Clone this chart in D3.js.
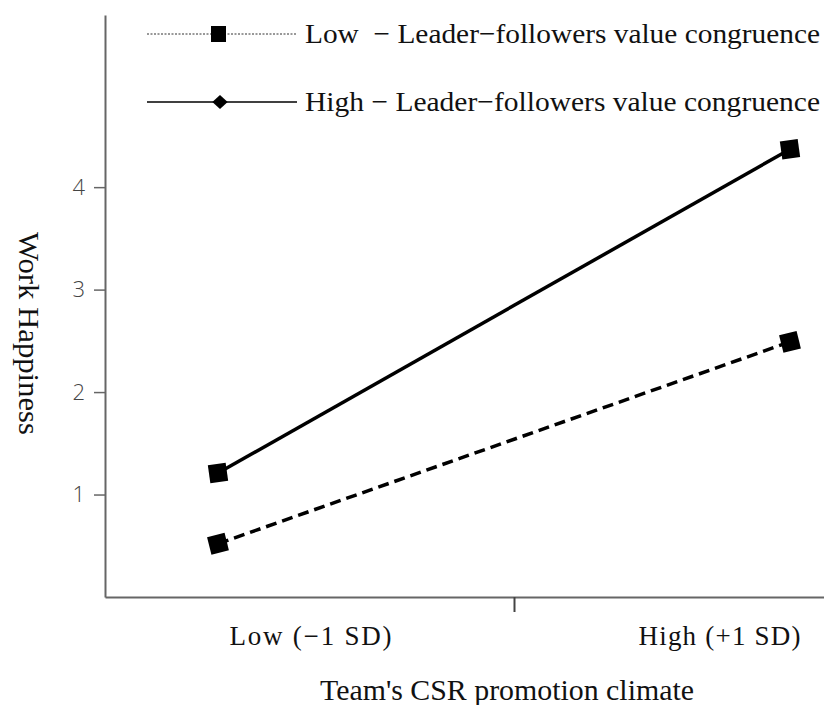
<!DOCTYPE html>
<html><head><meta charset="utf-8">
<script src="https://cdn.jsdelivr.net/npm/d3@7"></script>
<style>
body{margin:0;background:#fff;}
svg text{white-space:pre;}
</style></head>
<body><svg id="chart" width="824" height="705"></svg>
<script>
const categories = ["Low (−1 SD)", "High (+1 SD)"];
const seriesNames = ["Low  − Leader−followers value congruence", "High − Leader−followers value congruence"];
const lowCongruence = [0.52, 2.49];
const highCongruence = [1.21, 4.37];
const yTicks = [1, 2, 3, 4];
const xTitle = "Team's CSR promotion climate";
const yTitle = "Work Happiness";

const svg = d3.select("#chart");
const serif = "'Liberation Serif', 'DejaVu Serif', serif";
const sans = "'Open Sans', 'Noto Sans', sans-serif";

const y = d3.scaleLinear().domain([0, 5.68]).range([597, 15]);
const xPt = d3.scalePoint().domain(categories).range([218, 790]);
const xBand = d3.scaleBand().domain(categories).range([105, 923]);
const xLin = d3.scaleLinear().domain([0, 2]).range([105, 923]);

// Y axis
const ya = svg.append("g").attr("transform", "translate(105,0)")
  .call(d3.axisLeft(y).tickValues(yTicks).tickSize(11).tickSizeOuter(0).tickPadding(9).tickFormat(d3.format("d")));
ya.select(".domain").attr("stroke", "#666").attr("stroke-width", 2);
ya.selectAll(".tick line").attr("stroke", "#666").attr("stroke-width", 1.5);
ya.selectAll(".tick text").attr("font-family", sans).attr("font-size", 22).attr("font-weight", 300).attr("fill", "#444");

// X axis
const xa = svg.append("g").attr("transform", "translate(0,597)")
  .call(d3.axisBottom(xLin).tickValues([1]).tickSize(15).tickSizeOuter(0).tickFormat(""));
xa.select(".domain").attr("stroke", "#666").attr("stroke-width", 2);
xa.selectAll(".tick line").attr("stroke", "#444").attr("stroke-width", 2);

svg.append("g").selectAll("text").data(categories).join("text")
  .attr("x", d => xBand(d) + xBand.bandwidth() / 2 - 80)
  .attr("y", 645)
  .attr("font-family", serif).attr("font-size", 27).attr("fill", "#111")
  .attr("textLength", 162).attr("lengthAdjust", "spacing")
  .text(d => d);

svg.append("text").attr("x", 320).attr("y", 700)
  .attr("font-family", serif).attr("font-size", 29).attr("fill", "#111")
  .attr("textLength", 374).attr("lengthAdjust", "spacingAndGlyphs")
  .text(xTitle);

svg.append("text").attr("transform", "translate(19,232) rotate(90)")
  .attr("font-family", serif).attr("font-size", 29).attr("fill", "#111")
  .attr("textLength", 203).attr("lengthAdjust", "spacingAndGlyphs")
  .text(yTitle);

// Series
const line = d3.line().x((d, i) => xPt(categories[i])).y(d => y(d));
const series = [
  {vals: highCongruence, dash: null, rot: -8},
  {vals: lowCongruence, dash: "11,6", rot: -14}
];
series.forEach(s => {
  svg.append("path").datum(s.vals).attr("d", line)
    .attr("fill", "none").attr("stroke", "#000").attr("stroke-width", 3.5)
    .attr("stroke-dasharray", s.dash);
  svg.append("g").selectAll("rect").data(s.vals).join("rect")
    .attr("x", -9).attr("y", -9).attr("width", 18).attr("height", 18)
    .attr("transform", (d, i) => `translate(${xPt(categories[i])},${y(d)}) rotate(${s.rot})`)
    .attr("fill", "#000");
});

// Legend
const leg = svg.append("g");
const legY = [34, 102];
leg.append("line").attr("x1", 147).attr("x2", 297).attr("y1", legY[0]).attr("y2", legY[0])
  .attr("stroke", "#333").attr("stroke-width", 1).attr("stroke-dasharray", "2,1.5");
leg.append("rect").attr("x", 211).attr("y", legY[0] - 8).attr("width", 15).attr("height", 16).attr("fill", "#000");
leg.append("line").attr("x1", 147).attr("x2", 297).attr("y1", legY[1]).attr("y2", legY[1])
  .attr("stroke", "#000").attr("stroke-width", 1.5);
leg.append("path").attr("d", d3.symbol(d3.symbolDiamond2, 150)())
  .attr("transform", `translate(220,${legY[1]}) scale(1.0,0.9)`).attr("fill", "#000");
leg.selectAll("text").data(seriesNames).join("text")
  .attr("x", 305).attr("y", (d, i) => legY[i] + 9)
  .attr("font-family", serif).attr("font-size", 28).attr("fill", "#111")
  .attr("textLength", 515).attr("lengthAdjust", "spacingAndGlyphs")
  .text(d => d);
</script></body></html>
